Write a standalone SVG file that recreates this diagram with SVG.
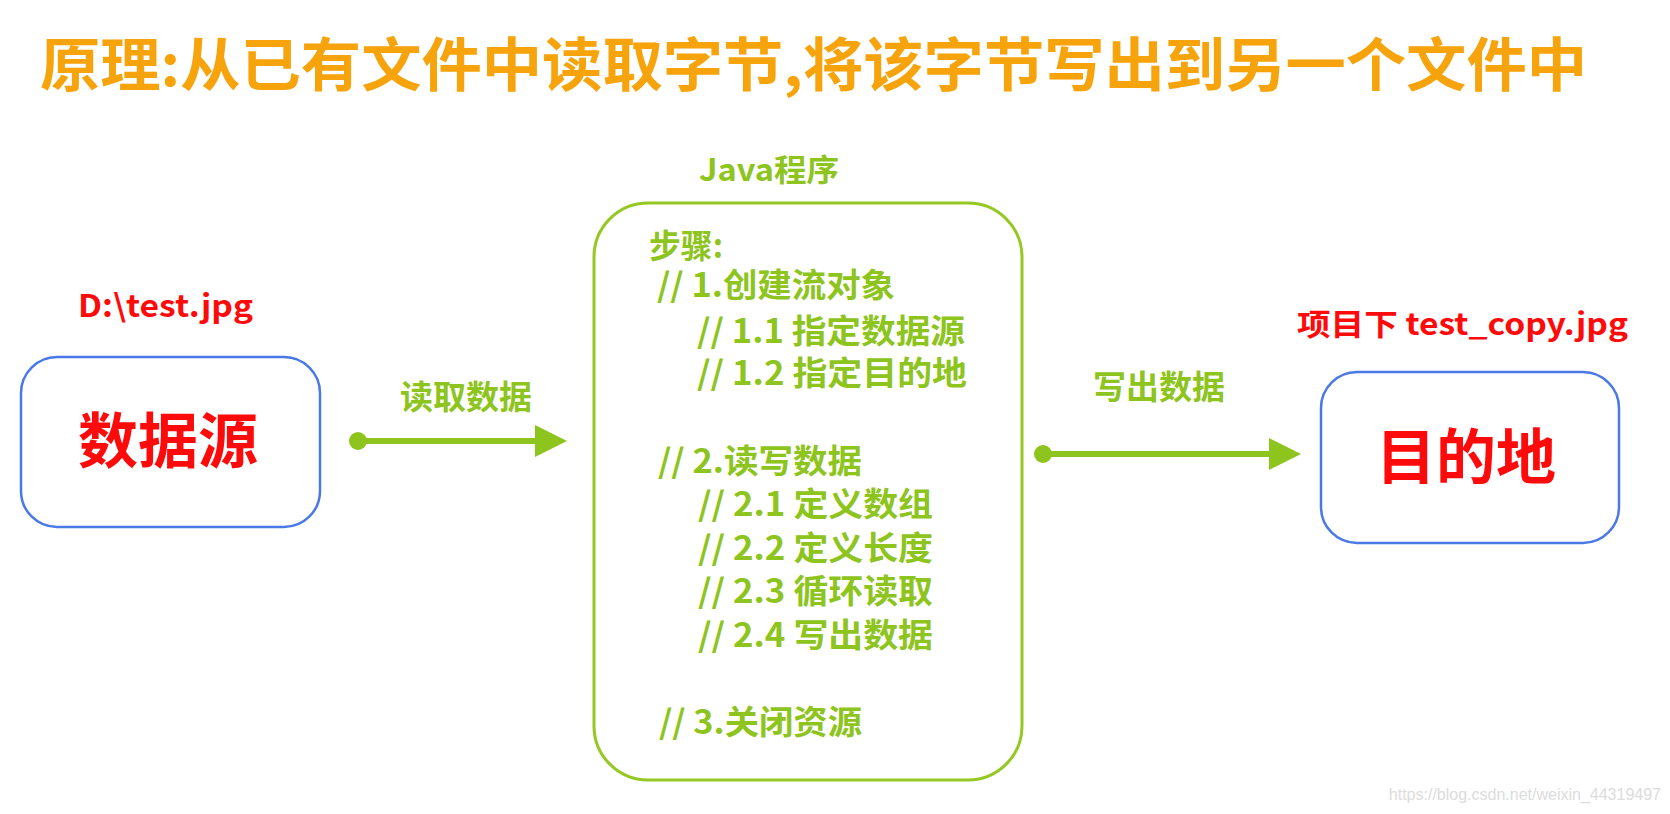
<svg xmlns="http://www.w3.org/2000/svg" width="1670" height="814" viewBox="0 0 1670 814">
<defs>
<style>
.t{font-family:"Noto Sans CJK SC","Noto Sans",sans-serif;font-weight:bold}
.title{fill:#F7A30C;font-size:58px}
.red{fill:#FF0A0A}
.grn{fill:#8DC41E}
.step{fill:#8DC41E;font-size:33px}
.box{fill:#fff;stroke:#4A78E6;stroke-width:2.5}
.gbox{fill:#fff;stroke:#95C823;stroke-width:3}
.conn{stroke:#8DC41E;stroke-width:6;fill:none}
</style>
</defs>
<rect width="1670" height="814" fill="#fff"/>
<text class="t title" x="40" y="86" textLength="1547" lengthAdjust="spacingAndGlyphs">原理:从已有文件中读取字节,将该字节写出到另一个文件中</text>

<g id="source">
<text class="t red" x="78" y="317" font-size="31" textLength="175" lengthAdjust="spacingAndGlyphs">D:\test.jpg</text>
<rect class="box" x="21" y="357" width="299" height="170" rx="36"/>
<text class="t red" x="168" y="463" font-size="60" text-anchor="middle">数据源</text>
</g>

<g id="program">
<text class="t grn" x="699" y="181" font-size="31" textLength="140" lengthAdjust="spacingAndGlyphs">Java程序</text>
<rect class="gbox" x="594" y="203" width="428" height="577" rx="54"/>
<text class="t step" x="649" y="258" textLength="74" lengthAdjust="spacingAndGlyphs">步骤:</text>
<text class="t step" x="657" y="297" textLength="238" lengthAdjust="spacingAndGlyphs">// 1.创建流对象</text>
<text class="t step" x="697" y="343" textLength="268" lengthAdjust="spacingAndGlyphs">// 1.1 指定数据源</text>
<text class="t step" x="697" y="385" textLength="270" lengthAdjust="spacingAndGlyphs">// 1.2 指定目的地</text>
<text class="t step" x="658" y="473" textLength="204" lengthAdjust="spacingAndGlyphs">// 2.读写数据</text>
<text class="t step" x="698" y="516" textLength="235" lengthAdjust="spacingAndGlyphs">// 2.1 定义数组</text>
<text class="t step" x="698" y="560" textLength="235" lengthAdjust="spacingAndGlyphs">// 2.2 定义长度</text>
<text class="t step" x="698" y="603" textLength="235" lengthAdjust="spacingAndGlyphs">// 2.3 循环读取</text>
<text class="t step" x="698" y="647" textLength="235" lengthAdjust="spacingAndGlyphs">// 2.4 写出数据</text>
<text class="t step" x="659" y="734" textLength="203" lengthAdjust="spacingAndGlyphs">// 3.关闭资源</text>
</g>

<g id="target">
<text class="t red" x="1297" y="335" font-size="30" textLength="331" lengthAdjust="spacingAndGlyphs">项目下 test_copy.jpg</text>
<rect class="box" x="1321" y="372" width="298" height="171" rx="36"/>
<text class="t red" x="1466" y="479" font-size="60" text-anchor="middle">目的地</text>
</g>

<g id="connectors">
<circle cx="358" cy="441" r="9" fill="#8DC41E"/>
<line class="conn" x1="358" y1="441" x2="537" y2="441"/>
<path d="M535,425 L567,441 L535,457 Z" fill="#8DC41E"/>
<text class="t grn" x="400" y="409" font-size="33" textLength="132" lengthAdjust="spacingAndGlyphs">读取数据</text>
<circle cx="1043" cy="454" r="9" fill="#8DC41E"/>
<line class="conn" x1="1043" y1="454" x2="1271" y2="454"/>
<path d="M1269,438 L1301,454 L1269,470 Z" fill="#8DC41E"/>
<text class="t grn" x="1093" y="399" font-size="33" textLength="132" lengthAdjust="spacingAndGlyphs">写出数据</text>
</g>

<text x="1661" y="800" font-family="Liberation Sans, Arial, sans-serif" font-size="16" fill="#DCDCDC" text-anchor="end">https://blog.csdn.net/weixin_44319497</text>
</svg>
